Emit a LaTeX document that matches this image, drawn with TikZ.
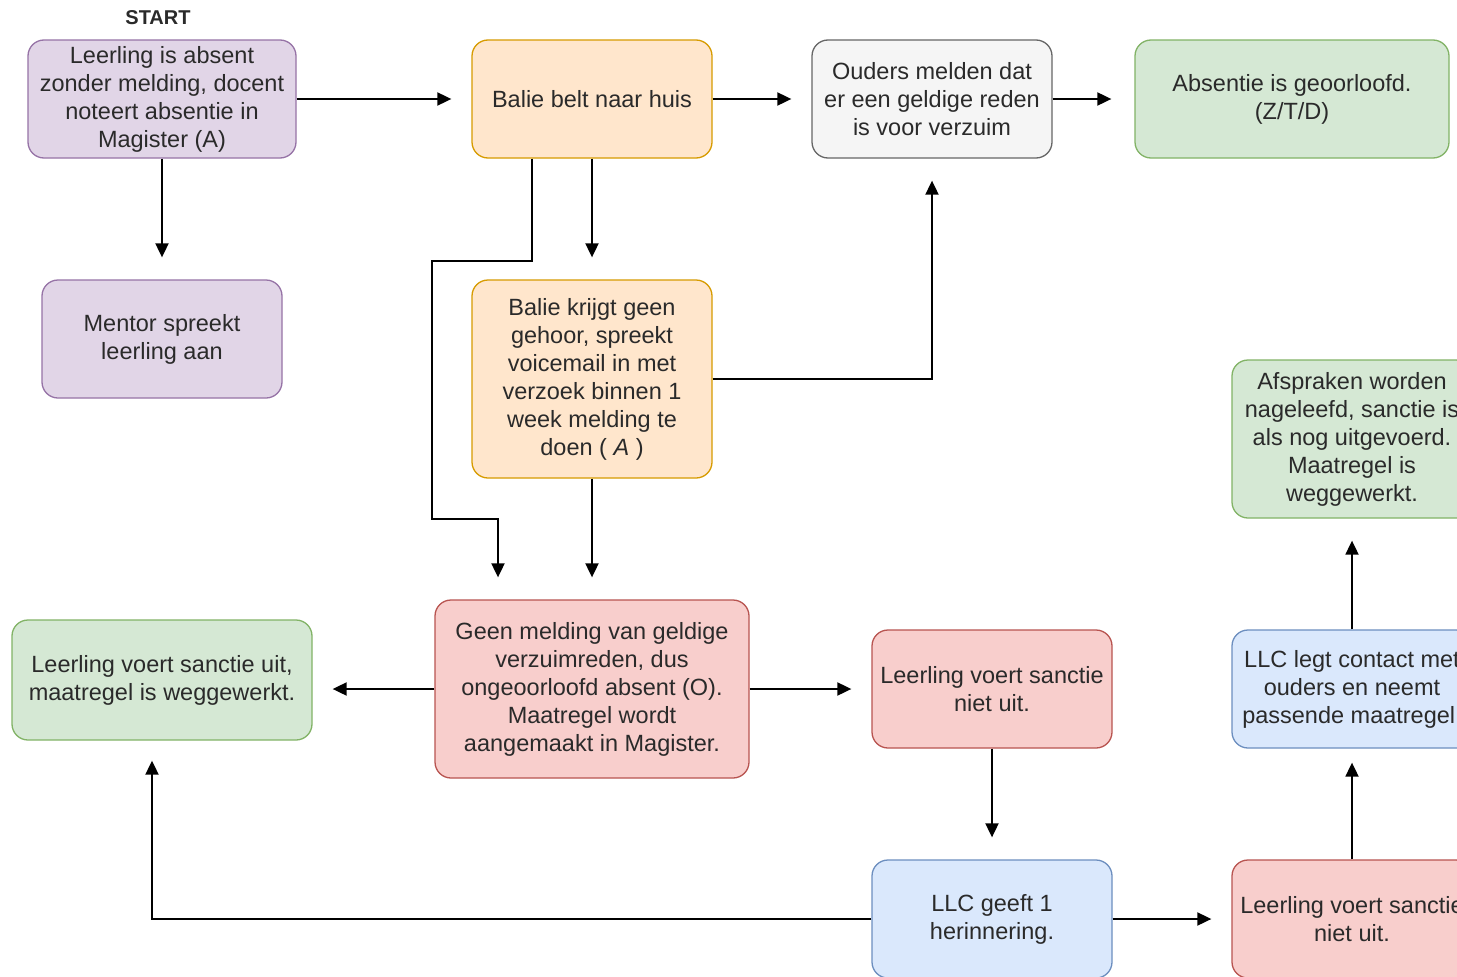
\documentclass[tikz,border=0pt]{standalone}
\usepackage{fontspec}
\setmainfont{Liberation Sans}
\usetikzlibrary{arrows.meta}
\definecolor{txt}{HTML}{2A2A2A}
\definecolor{pfill}{HTML}{E1D5E7}\definecolor{pdraw}{HTML}{9673A6}
\definecolor{ofill}{HTML}{FFE6CC}\definecolor{odraw}{HTML}{D79B00}
\definecolor{gfill}{HTML}{F5F5F5}\definecolor{gdraw}{HTML}{666666}
\definecolor{grfill}{HTML}{D5E8D4}\definecolor{grdraw}{HTML}{82B366}
\definecolor{rfill}{HTML}{F8CECC}\definecolor{rdraw}{HTML}{B85450}
\definecolor{bfill}{HTML}{DAE8FC}\definecolor{bdraw}{HTML}{6C8EBF}
\begin{document}
\begin{tikzpicture}[x=1pt,y=-1pt,
  box/.style={draw, line width=1.3pt, rounded corners=16pt, align=center, text=txt,
    font=\fontsize{23.5}{28}\selectfont, inner sep=0pt, minimum width=240pt, minimum height=118pt},
  purplebox/.style={box, fill=pfill, draw=pdraw},
  orangebox/.style={box, fill=ofill, draw=odraw},
  greybox/.style={box, fill=gfill, draw=gdraw},
  greenbox/.style={box, fill=grfill, draw=grdraw},
  redbox/.style={box, fill=rfill, draw=rdraw},
  bluebox/.style={box, fill=bfill, draw=bdraw},
  arr/.style={-{Triangle[length=14pt,width=13pt]}, line width=1.9pt, draw=black, shorten >=20pt}]
\useasboundingbox (0,0) rectangle (1457,977);
\clip (0,0) rectangle (1457,977);
\fill[white] (0,0) rectangle (1457,977);

\node[text=txt, font=\bfseries\fontsize{20}{24}\selectfont] (start) at (158,18) {START};
\node[purplebox, minimum width=268pt] (a) at (162,99) {Leerling is absent\\zonder melding, docent\\noteert absentie in\\Magister (A)};
\node[purplebox] (mentor) at (162,339) {Mentor spreekt\\leerling aan};
\node[orangebox] (balie) at (592,99) {Balie belt naar huis};
\node[greybox] (ouders) at (932,99) {Ouders melden dat\\er een geldige reden\\is voor verzuim};
\node[greenbox, minimum width=314pt] (geoorloofd) at (1292,99) {Absentie is geoorloofd.\\(Z/T/D)};
\node[orangebox, minimum height=198pt] (krijgt) at (592,379) {Balie krijgt geen\\gehoor, spreekt\\voicemail in met\\verzoek binnen 1\\week melding te\\doen ( \textit{A} )};
\node[greenbox, minimum height=158pt] (afspraken) at (1352,439) {Afspraken worden\\nageleefd, sanctie is\\als nog uitgevoerd.\\Maatregel is\\weggewerkt.};
\node[redbox, minimum width=314pt, minimum height=178pt] (geen) at (592,689) {Geen melding van geldige\\verzuimreden, dus\\ongeoorloofd absent (O).\\Maatregel wordt\\aangemaakt in Magister.};
\node[greenbox, minimum width=300pt, minimum height=120pt] (uit) at (162,680) {Leerling voert sanctie uit,\\maatregel is weggewerkt.};
\node[redbox] (niet) at (992,689) {Leerling voert sanctie\\niet uit.};
\node[bluebox] (contact) at (1352,689) {LLC legt contact met\\ouders en neemt\\passende maatregel.};
\node[bluebox] (herinnering) at (992,919) {LLC geeft 1\\herinnering.};
\node[redbox] (niet2) at (1352,919) {Leerling voert sanctie\\niet uit.};

\draw[arr] (a.east) -- (balie.west);
\draw[arr, shorten >=22pt] (a.south) -- (mentor.north);
\draw[arr] (balie.east) -- (ouders.west);
\draw[arr, shorten >=23pt] (ouders.east) -- (geoorloofd.west);
\draw[arr, shorten >=22pt] (balie.south) -- (krijgt.north);
\draw[arr, shorten >=0pt] ([xshift=-60pt]balie.south) -- ++(0,102) -- ++(-100,0) -- ++(0,258) -- ++(66,0) -- ([xshift=-94pt,yshift=22pt]geen.north);
\draw[arr, shorten >=22pt] (krijgt.east) -| (ouders.south);
\draw[arr, shorten >=22pt] (krijgt.south) -- (geen.north);
\draw[arr] (geen.west) -- (geen.west -| uit.east);
\draw[arr] (geen.east) -- (niet.west);
\draw[arr, shorten >=22pt] (niet.south) -- (herinnering.north);
\draw[arr] (herinnering.west) -| ([xshift=-10pt]uit.south);
\draw[arr] (herinnering.east) -- (niet2.west);
\draw[arr, shorten >=14pt] (niet2.north) -- (contact.south);
\draw[arr, shorten >=22pt] (contact.north) -- (afspraken.south);
\end{tikzpicture}
\end{document}
